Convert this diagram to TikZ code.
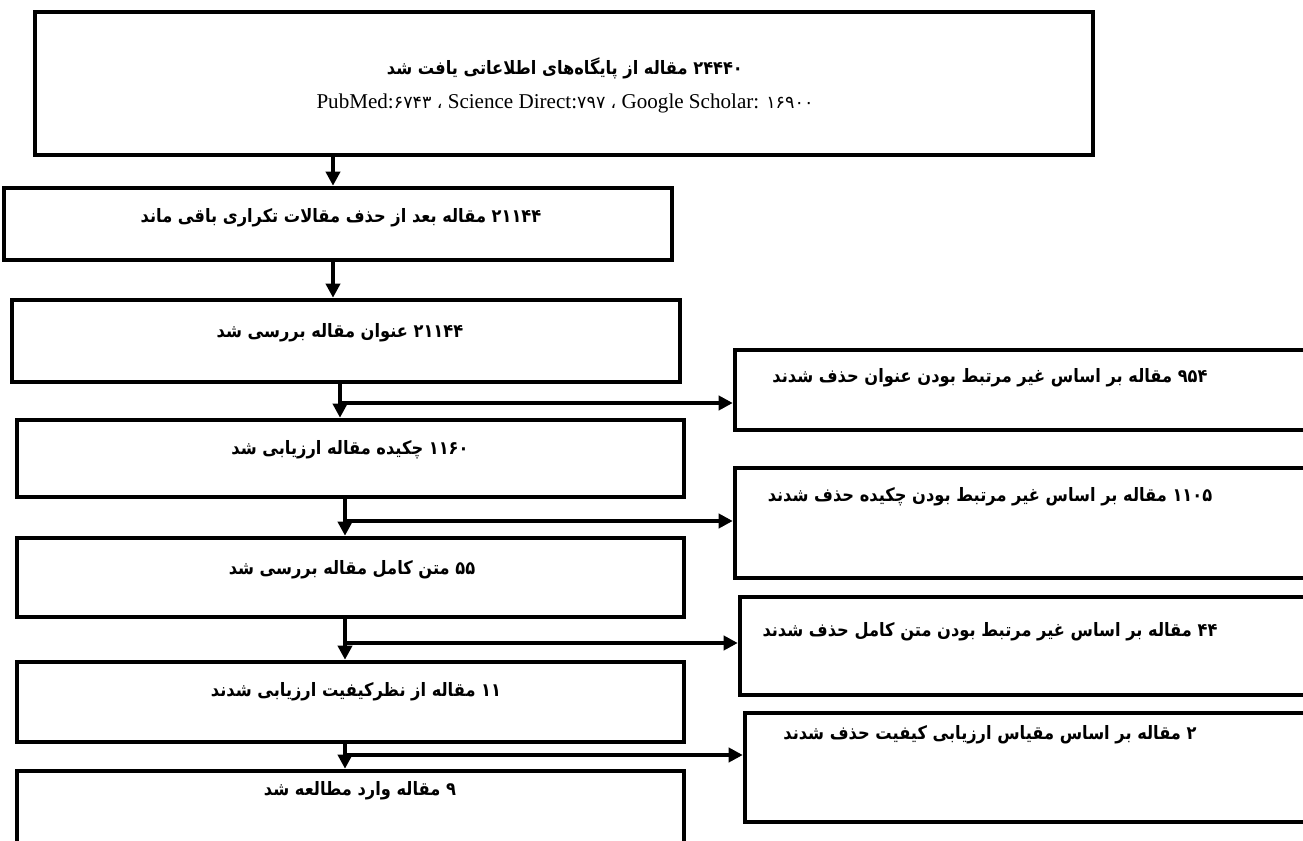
\documentclass[tikz,border=0pt]{standalone}
\usepackage{fontspec}
\setmainfont{Liberation Serif}
\newfontfamily\fafont[Script=Arabic,FakeStretch=0.88]{DejaVu Sans}
\newfontfamily\fadigfont[Script=Arabic]{DejaVu Sans}
\TeXXeTstate=1
\usetikzlibrary{arrows.meta,calc}
\newcommand{\fatxt}[1]{{\fafont\bfseries\beginR #1\endR}}
\newcommand{\fadig}[1]{{\fadigfont\fontsize{10}{12}\selectfont #1}}

\tikzset{
	box/.style={draw=black, line width=2.6pt, rectangle, inner sep=0pt},
	txt/.style={draw=none, fill=none, inner sep=0pt, font=\fontsize{10.5}{12}\selectfont},
	flow/.style={-{Triangle[length=8pt,width=8pt]}, line width=2.3pt}
}

\begin{document}
\begin{tikzpicture}[x=0.02cm,y=-0.02cm]
	\useasboundingbox (0,0) rectangle (1303,841);
	
	% boxes
	\node[box, minimum width=21.16cm, minimum height=2.86cm] (top) at (564,83.5) {};
	\node[box, minimum width=13.36cm, minimum height=1.44cm] (b2) at (338,224) {};
	\node[box, minimum width=13.36cm, minimum height=1.64cm] (b3) at (346,341) {};
	\node[box, minimum width=13.34cm, minimum height=1.54cm] (b4) at (350.5,458.5) {};
	\node[box, minimum width=13.34cm, minimum height=1.58cm] (b5) at (350.5,577.5) {};
	\node[box, minimum width=13.34cm, minimum height=1.60cm] (b6) at (350.5,702) {};
	\node[box, minimum width=13.34cm, minimum height=2.18cm] (b7) at (350.5,825.5) {};
	
	\node[box, minimum width=11.9cm, minimum height=1.6cm] (rA) at (1032.5,390) {};
	\node[box, minimum width=11.9cm, minimum height=2.2cm] (rB) at (1032.5,523) {};
	\node[box, minimum width=11.8cm, minimum height=1.96cm] (rC) at (1035,646) {};
	\node[box, minimum width=11.7cm, minimum height=2.18cm] (rD) at (1037.5,767.5) {};
	
	% texts
	\node[txt] (t1) at (565,68) {\fatxt{۲۴۴۴۰ مقاله از پایگاه‌های اطلاعاتی یافت شد}};
	\node[txt, font=\fontsize{12}{14}\selectfont] (t1b) at (565,103) {PubMed:\fadig{۶۷۴۳} \fadig{،} Science Direct:\fadig{۷۹۷} \fadig{،} Google Scholar: \fadig{۱۶۹۰۰}};
	\node[txt] (t2) at (341,218) {\fatxt{۲۱۱۴۴ مقاله بعد از حذف مقالات تکراری باقی ماند}};
	\node[txt] (t3) at (340,333) {\fatxt{۲۱۱۴۴ عنوان مقاله بررسی شد}};
	\node[txt] (t4) at (350,450) {\fatxt{۱۱۶۰ چکیده مقاله ارزیابی شد}};
	\node[txt] (t5) at (352,570) {\fatxt{۵۵ متن کامل مقاله بررسی شد}};
	\node[txt] (t6) at (356,692) {\fatxt{۱۱ مقاله از نظرکیفیت ارزیابی شدند}};
	\node[txt] (t7) at (360,791) {\fatxt{۹ مقاله وارد مطالعه شد}};
	
	\node[txt] (tA) at (990,378) {\fatxt{۹۵۴ مقاله بر اساس غیر مرتبط بودن عنوان حذف شدند}};
	\node[txt] (tB) at (990,497) {\fatxt{۱۱۰۵ مقاله بر اساس غیر مرتبط بودن چکیده حذف شدند}};
	\node[txt] (tC) at (990,632) {\fatxt{۴۴ مقاله بر اساس غیر مرتبط بودن متن کامل حذف شدند}};
	\node[txt] (tD) at (990,735) {\fatxt{۲ مقاله بر اساس مقیاس ارزیابی کیفیت حذف شدند}};
	
	% arrows
	\coordinate (x1) at (333,0);
	\coordinate (j1) at (340,403);
	\coordinate (j2) at (345,521);
	\coordinate (j3) at (345,643);
	\coordinate (j4) at (345,755);
	
	\draw[flow] (top.south -| x1) -- (b2.north -| x1);
	\draw[flow] (b2.south -| x1) -- (b3.north -| x1);
	
	\draw[flow] (b3.south -| j1) -- (b4.north -| j1);
	\draw[flow] (j1) -- (j1 -| rA.west);
	
	\draw[flow] (b4.south -| j2) -- (b5.north -| j2);
	\draw[flow] (j2) -- (j2 -| rB.west);
	
	\draw[flow] (b5.south -| j3) -- (b6.north -| j3);
	\draw[flow] (j3) -- (j3 -| rC.west);
	
	\draw[flow] (b6.south -| j4) -- (b7.north -| j4);
	\draw[flow] (j4) -- (j4 -| rD.west);
\end{tikzpicture}
\end{document}
